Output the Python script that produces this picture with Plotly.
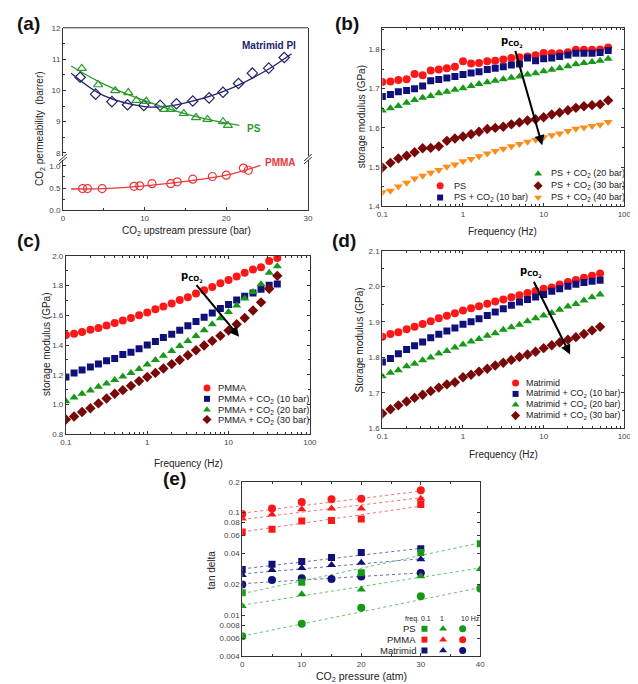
import math
import plotly.graph_objects as go

W, H = 638, 684
def px(x): return x / W
def py(y): return 1 - y / H
def lg(v): return math.log10(v)

# ---------------- data ----------------
# (a) CO2 permeability vs upstream pressure
a_mat_p = [2.1, 4.0, 6.0, 7.9, 9.9, 11.9, 13.9, 15.9, 17.9, 19.6, 21.5, 23.2, 25.2, 27.1]
a_mat_perm = [10.42, 9.88, 9.64, 9.54, 9.52, 9.52, 9.57, 9.66, 9.76, 9.94, 10.22, 10.55, 10.71, 11.05]
a_mat_fit_p = [1, 5, 10, 12, 15, 20, 25, 28]
a_mat_fit = [10.55, 9.83, 9.48, 9.47, 9.60, 10.0, 10.65, 11.17]

a_ps_p = [2.3, 4.3, 6.4, 8.0, 9.0, 10.2, 12.4, 13.2, 14.8, 16.3, 17.7, 19.6, 20.2]
a_ps_perm = [10.70, 10.18, 9.99, 9.93, 9.68, 9.65, 9.39, 9.39, 9.26, 9.13, 9.07, 9.00, 8.88]
a_ps_fit_p = [1, 5, 10, 15, 20, 21.6]
a_ps_fit = [10.78, 10.20, 9.67, 9.25, 8.95, 8.88]

a_pmma_p = [2.4, 3.0, 4.8, 8.7, 9.4, 10.9, 13.2, 14.0, 15.9, 18.3, 20.0, 22.1, 22.7]
a_pmma_perm = [0.49, 0.49, 0.49, 0.54, 0.55, 0.60, 0.60, 0.64, 0.70, 0.76, 0.79, 0.95, 0.90]
a_pmma_fit_p = [1, 5, 10, 15, 20, 24.2]
a_pmma_fit = [0.48, 0.49, 0.55, 0.65, 0.79, 1.01]

# frequency grid (Hz)
freq = [0.1, 0.126, 0.158, 0.2, 0.251, 0.316, 0.398, 0.501, 0.631, 0.794,
        1.0, 1.26, 1.58, 2.0, 2.51, 3.16, 3.98, 5.01, 6.31, 7.94,
        10.0, 12.6, 15.8, 20.0, 25.1, 31.6, 39.8, 50.1, 63.1]

# (b) PS storage modulus (GPa)
b_ps = [1.717, 1.718, 1.722, 1.724, 1.737, 1.734, 1.746, 1.749, 1.752, 1.756,
        1.770, 1.764, 1.765, 1.770, 1.771, 1.774, 1.778, 1.780, 1.782, 1.785,
        1.791, 1.790, 1.790, 1.793, 1.799, 1.799, 1.799, 1.800, 1.805]
b_ps10 = [1.680, 1.685, 1.692, 1.695, 1.700, 1.707, 1.720, 1.723, 1.727, 1.731,
          1.736, 1.740, 1.743, 1.749, 1.752, 1.756, 1.760, 1.763, 1.778, 1.771,
          1.776, 1.778, 1.782, 1.786, 1.790, 1.790, 1.790, 1.792, 1.797]
b_ps20 = [1.644, 1.650, 1.656, 1.664, 1.671, 1.677, 1.681, 1.688, 1.692, 1.697,
          1.701, 1.707, 1.712, 1.716, 1.720, 1.724, 1.728, 1.731, 1.736, 1.739,
          1.744, 1.748, 1.752, 1.757, 1.762, 1.765, 1.768, 1.771, 1.776]
b_ps30 = [1.499, 1.511, 1.522, 1.529, 1.538, 1.548, 1.549, 1.553, 1.567, 1.573,
          1.578, 1.584, 1.590, 1.597, 1.600, 1.603, 1.609, 1.614, 1.619, 1.622,
          1.627, 1.634, 1.639, 1.645, 1.651, 1.655, 1.658, 1.660, 1.670]
b_ps40 = [1.436, 1.440, 1.451, 1.460, 1.471, 1.478, 1.486, 1.493, 1.501, 1.507,
          1.515, 1.521, 1.528, 1.535, 1.541, 1.547, 1.553, 1.559, 1.565, 1.570,
          1.576, 1.581, 1.586, 1.592, 1.598, 1.601, 1.605, 1.608, 1.615]

# (c) PMMA storage modulus (GPa), 27 frequencies
c_pmma = [1.467, 1.476, 1.487, 1.503, 1.514, 1.532, 1.548, 1.565, 1.582, 1.600,
          1.619, 1.641, 1.659, 1.680, 1.703, 1.722, 1.746, 1.768, 1.790, 1.815,
          1.837, 1.860, 1.885, 1.907, 1.923, 1.965, 1.985]
c_pmma10 = [1.185, 1.213, 1.232, 1.252, 1.273, 1.294, 1.310, 1.336, 1.352, 1.376,
            1.400, 1.424, 1.450, 1.473, 1.500, 1.529, 1.558, 1.586, 1.616, 1.645,
            1.673, 1.703, 1.728, 1.750, 1.775, 1.802, 1.810]
c_pmma20 = [1.022, 1.048, 1.073, 1.095, 1.120, 1.142, 1.165, 1.188, 1.212, 1.240,
            1.270, 1.300, 1.328, 1.360, 1.393, 1.427, 1.461, 1.500, 1.540, 1.580,
            1.622, 1.665, 1.712, 1.757, 1.808, 1.885, 1.930]
c_pmma30 = [0.900, 0.920, 0.950, 0.975, 1.008, 1.041, 1.073, 1.097, 1.126, 1.158,
            1.185, 1.213, 1.243, 1.272, 1.300, 1.332, 1.365, 1.397, 1.428, 1.462,
            1.497, 1.540, 1.582, 1.632, 1.687, 1.778, 1.865]

# (d) Matrimid storage modulus (GPa), 28 frequencies
d_mat = [1.858, 1.866, 1.871, 1.879, 1.886, 1.894, 1.902, 1.910, 1.917, 1.924,
         1.932, 1.938, 1.944, 1.951, 1.957, 1.963, 1.969, 1.975, 1.981, 1.987,
         1.993, 1.997, 2.005, 2.012, 2.018, 2.024, 2.030, 2.036]
d_mat10 = [1.787, 1.797, 1.810, 1.822, 1.833, 1.843, 1.855, 1.865, 1.874, 1.883,
           1.893, 1.900, 1.909, 1.918, 1.928, 1.937, 1.947, 1.956, 1.963, 1.970,
           1.977, 1.986, 1.993, 2.000, 2.006, 2.011, 2.014, 2.017]
d_mat20 = [1.747, 1.757, 1.764, 1.775, 1.782, 1.792, 1.800, 1.811, 1.818, 1.828,
           1.836, 1.845, 1.852, 1.861, 1.868, 1.878, 1.885, 1.892, 1.902, 1.910,
           1.918, 1.925, 1.934, 1.943, 1.950, 1.960, 1.969, 1.977]
d_mat30 = [1.642, 1.654, 1.665, 1.676, 1.686, 1.695, 1.705, 1.715, 1.724, 1.730,
           1.744, 1.751, 1.760, 1.768, 1.777, 1.785, 1.793, 1.801, 1.808, 1.816,
           1.826, 1.834, 1.842, 1.850, 1.857, 1.866, 1.876, 1.886]

# (e) tan delta vs CO2 pressure (atm)
e_p_pmma = [0, 5, 10, 15, 20, 30]
e_pmma_01 = [0.065, 0.069, 0.083, 0.084, 0.087, 0.120]
e_pmma_1 = [0.088, 0.096, 0.108, 0.110, 0.110, 0.137]
e_pmma_10 = [0.097, 0.110, 0.127, 0.135, 0.137, 0.165]
e_p_mat = [0, 5, 10, 15, 20, 30]
e_mat_01 = [0.0280, 0.0316, 0.0335, 0.0366, 0.0410, 0.0446]
e_mat_1 = [0.0248, 0.0277, 0.0290, 0.0310, 0.0326, 0.0353]
e_mat_10 = [0.0200, 0.0222, 0.0230, 0.0227, 0.0240, 0.0259]
e_p_ps = [0, 10, 20, 30, 40]
e_ps_01 = [0.0166, 0.0211, 0.0261, 0.0410, 0.0498]
e_ps_1 = [0.0124, 0.0161, 0.0179, 0.0241, 0.0283]
e_ps_10 = [0.0063, 0.0083, 0.0119, 0.0154, 0.0183]
# dotted trend lines: [start, end] pressure and values
e_fit_pmma_p = [0, 31]
e_fit_pmma_01 = [0.065, 0.118]
e_fit_pmma_1 = [0.086, 0.142]
e_fit_pmma_10 = [0.099, 0.165]
e_fit_mat_p = [0, 31]
e_fit_mat_01 = [0.0284, 0.0457]
e_fit_mat_1 = [0.0254, 0.0360]
e_fit_mat_10 = [0.0204, 0.0262]
e_fit_ps_p = [0, 40]
e_fit_ps_01 = [0.0163, 0.0510]
e_fit_ps_1 = [0.0126, 0.0290]
e_fit_ps_10 = [0.0063, 0.0187]

# ---------------- style ----------------
FONT = "Liberation Sans, Arial, sans-serif"
RED = "#ff1616"
NAVY = "#10107a"
GREEN = "#189818"
DRED = "#780808"
ORANGE = "#ff8c1a"
AX = "#333333"

fig = go.Figure()

def sc(x, y, xa, ya, color, symbol, size=8, mode="markers", line=None, shape=None, open_=False):
    kw = dict(x=x, y=y, xaxis=xa, yaxis=ya, mode=mode, showlegend=False, hoverinfo="skip")
    if "markers" in mode:
        if open_:
            kw["marker"] = dict(symbol=symbol, size=size, color=color,
                                line=dict(color=color, width=1.2))
        else:
            kw["marker"] = dict(symbol=symbol, size=size, color=color, line=dict(width=0))
    if line is not None:
        kw["line"] = line
        if shape:
            kw["line"]["shape"] = shape
    fig.add_trace(go.Scatter(**kw))

# (a)
CA_N, CA_G, CA_R = "#23236e", "#2a9a2a", "#e8383a"
sc(a_mat_fit_p, a_mat_fit, "x2", "y2", None, None, mode="lines", line=dict(color=CA_N, width=1.3), shape="spline")
sc(a_ps_fit_p, a_ps_fit, "x2", "y2", None, None, mode="lines", line=dict(color=CA_G, width=1.3), shape="spline")
sc(a_mat_p, a_mat_perm, "x2", "y2", CA_N, "diamond-open", size=8, open_=True)
sc(a_ps_p, a_ps_perm, "x2", "y2", CA_G, "triangle-up-open", size=8, open_=True)
sc(a_pmma_fit_p, a_pmma_fit, "x", "y", None, None, mode="lines", line=dict(color=CA_R, width=1.3), shape="spline")
sc(a_pmma_p, a_pmma_perm, "x", "y", CA_R, "circle-open", size=8, open_=True)

# (b)
b_series = [(b_ps, RED, "circle", 8), (b_ps10, NAVY, "square", 7), (b_ps20, GREEN, "triangle-up", 8),
            (b_ps30, DRED, "diamond", 8), (b_ps40, ORANGE, "triangle-down", 8)]
for ys, col, sym, s in b_series:
    sc(freq[:len(ys)], ys, "x3", "y3", col, sym, size=s)

# (c)
for ys, col, sym, s in [(c_pmma, RED, "circle", 8), (c_pmma10, NAVY, "square", 7),
                        (c_pmma20, GREEN, "triangle-up", 8), (c_pmma30, DRED, "diamond", 8)]:
    sc(freq[:len(ys)], ys, "x4", "y4", col, sym, size=s)

# (d)
for ys, col, sym, s in [(d_mat, RED, "circle", 8), (d_mat10, NAVY, "square", 7),
                        (d_mat20, GREEN, "triangle-up", 8), (d_mat30, DRED, "diamond", 8)]:
    sc(freq[:len(ys)], ys, "x5", "y5", col, sym, size=s)

# (e)
LRED, LNAVY, LGREEN = "#f07070", "#6a6aa8", "#6abf6a"
for fp, fy, col in [(e_fit_pmma_p, e_fit_pmma_01, LRED), (e_fit_pmma_p, e_fit_pmma_1, LRED), (e_fit_pmma_p, e_fit_pmma_10, LRED),
                    (e_fit_mat_p, e_fit_mat_01, LNAVY), (e_fit_mat_p, e_fit_mat_1, LNAVY), (e_fit_mat_p, e_fit_mat_10, LNAVY),
                    (e_fit_ps_p, e_fit_ps_01, LGREEN), (e_fit_ps_p, e_fit_ps_1, LGREEN), (e_fit_ps_p, e_fit_ps_10, LGREEN)]:
    sc(fp, fy, "x6", "y6", None, None, mode="lines", line=dict(color=col, width=1, dash="dot"))
for xp, ys, col, sym in [(e_p_pmma, e_pmma_01, RED, "square"), (e_p_pmma, e_pmma_1, RED, "triangle-up"), (e_p_pmma, e_pmma_10, RED, "circle"),
                         (e_p_mat, e_mat_01, NAVY, "square"), (e_p_mat, e_mat_1, NAVY, "triangle-up"), (e_p_mat, e_mat_10, NAVY, "circle"),
                         (e_p_ps, e_ps_01, GREEN, "square"), (e_p_ps, e_ps_1, GREEN, "triangle-up"), (e_p_ps, e_ps_10, GREEN, "circle")]:
    sc(xp, ys, "x6", "y6", col, sym, size=8 if sym != "square" else 7)

# legend swatches on an overlay pixel axis (x7/y7)
swatches = [
    # (b)
    (435, 176, RED, "circle", 7), (435, 188, NAVY, "square", 6),
    (535, 164, GREEN, "triangle-up", 7), (535, 176, DRED, "diamond", 7), (535, 188, ORANGE, "triangle-down", 7),
    # (c)
    (197, 381, RED, "circle", 7), (197, 392, NAVY, "square", 6), (197, 403, GREEN, "triangle-up", 7), (197, 413, DRED, "diamond", 7),
    # (d)
    (512, 376, RED, "circle", 7), (512, 387, NAVY, "square", 6), (512, 398, GREEN, "triangle-up", 7), (512, 409, DRED, "diamond", 7),
    # (e)
    (419, 625, GREEN, "square", 6), (438, 625, GREEN, "triangle-up", 7), (458, 625, GREEN, "circle", 7),
    (419, 636, RED, "square", 6), (438, 636, RED, "triangle-up", 7), (458, 636, RED, "circle", 7),
    (419, 647, NAVY, "square", 6), (438, 647, NAVY, "triangle-up", 7), (458, 647, NAVY, "circle", 7),
]
for x0, y0, col, sym, s in swatches:
    fig.add_trace(go.Scatter(x=[x0], y=[y0], xaxis="x7", yaxis="y7", mode="markers", showlegend=False,
                             hoverinfo="skip", marker=dict(symbol=sym, size=s, color=col, line=dict(width=0))))

# ---------------- axes ----------------
tf = dict(size=8, color="#444444", family=FONT)
def base(**kw):
    d = dict(showline=True, linecolor=AX, linewidth=1, mirror="allticks", ticks="inside", ticklen=3,
             tickwidth=1, tickcolor=AX, tickfont=tf, showgrid=False, zeroline=False)
    d.update(kw)
    return d

minor_lin = lambda dt: dict(ticks="inside", ticklen=2, tickcolor=AX, dtick=dt, showgrid=False)
minor_log = dict(ticks="inside", ticklen=2, tickcolor=AX, dtick="D1", showgrid=False)

lay = dict(
    width=W, height=H, margin=dict(l=0, r=0, t=0, b=0),
    paper_bgcolor="white", plot_bgcolor="rgba(0,0,0,0)", font=dict(family=FONT, color="#222"),
    # (a) bottom
    xaxis=base(domain=[px(50), px(300)], range=[0, 30], tickvals=[0, 10, 20, 30], mirror=False,
               minor=minor_lin(5), anchor="y"),
    yaxis=base(domain=[py(201), py(150)], range=[0, 1.13], tickvals=[0, 0.5, 1.0],
               ticktext=["0.0", "0.5", "1.0"], minor=minor_lin(0.25), anchor="x", mirror=True),
    # (a) top
    xaxis2=dict(domain=[px(50), px(300)], range=[0, 30], visible=False, anchor="y2"),
    yaxis2=base(domain=[py(146), py(16)], range=[7.9, 12], tickvals=[8, 9, 10, 11, 12],
                minor=minor_lin(0.5), anchor="x2", mirror=True),
    # (b)
    xaxis3=base(domain=[px(376), px(623)], type="log", range=[-1, 2], tickvals=[0.1, 1, 10, 100],
                ticktext=["0.1", "1", "10", "100"], minor=minor_log, anchor="y3"),
    yaxis3=base(domain=[py(197), py(16)], range=[1.4, 1.855], tickvals=[1.4, 1.5, 1.6, 1.7, 1.8],
                minor=minor_lin(0.05), anchor="x3"),
    # (c)
    xaxis4=base(domain=[px(53), px(302)], type="log", range=[-1, 2], tickvals=[0.1, 1, 10, 100],
                ticktext=["0.1", "1", "10", "100"], minor=minor_log, anchor="y4"),
    yaxis4=base(domain=[py(428), py(247)], range=[0.8, 2.0], tickvals=[0.8, 1.0, 1.2, 1.4, 1.6, 1.8, 2.0],
                ticktext=["0.8", "1.0", "1.2", "1.4", "1.6", "1.8", "2.0"], minor=minor_lin(0.1), anchor="x4"),
    # (d)
    xaxis5=base(domain=[px(376), px(623)], type="log", range=[-1, 2], tickvals=[0.1, 1, 10, 100],
                ticktext=["0.1", "1", "10", "100"], minor=minor_log, anchor="y5"),
    yaxis5=base(domain=[py(422), py(242)], range=[1.6, 2.1], tickvals=[1.6, 1.7, 1.8, 1.9, 2.0, 2.1],
                ticktext=["1.6", "1.7", "1.8", "1.9", "2.0", "2.1"], minor=minor_lin(0.05), anchor="x5"),
    # (e)
    xaxis6=base(domain=[px(233), px(476)], range=[0, 40], tickvals=[0, 10, 20, 30, 40],
                minor=minor_lin(5), anchor="y6"),
    yaxis6=base(domain=[py(653), py(476)], type="log", range=[lg(0.004), lg(0.2)],
                tickvals=[0.004, 0.006, 0.008, 0.01, 0.02, 0.04, 0.06, 0.08, 0.1, 0.2],
                ticktext=["0.004", "0.006", "0.008", "0.01", "0.02", "0.04", "0.06", "0.08", "0.1", "0.2"],
                anchor="x6"),
    # overlay pixel axis
    xaxis7=dict(domain=[0, 1], range=[0, W], visible=False, anchor="y7"),
    yaxis7=dict(domain=[0, 1], range=[H, 0], visible=False, anchor="x7"),
)
fig.update_layout(**lay)

# ---------------- shapes ----------------
shapes = [
    dict(type="line", xref="paper", yref="paper", x0=px(50), x1=px(300), y0=py(16), y1=py(16),
         line=dict(color=AX, width=1)),
]
for xb in (50, 300):
    for dy in (0, 3):
        shapes.append(dict(type="line", xref="paper", yref="paper", x0=px(xb - 4), x1=px(xb + 4),
                           y0=py(151 + dy), y1=py(144 + dy), line=dict(color=AX, width=1)))
fig.update_layout(shapes=shapes)

# ---------------- annotations ----------------
ann = []
def T(x, y, text, size=10, color="#222", xanchor="center", yanchor="middle", angle=0, bold=False, family=FONT):
    if bold:
        text = "<b>" + text + "</b>"
    ann.append(dict(x=px(x), y=py(y), xref="paper", yref="paper", text=text, showarrow=False,
                    font=dict(size=size, color=color, family=family), xanchor=xanchor, yanchor=yanchor,
                    textangle=angle))

# panel labels
for lab, x, y in [("(a)", 1, 12), ("(b)", 326, 12), ("(c)", 1, 232), ("(d)", 323, 232), ("(e)", 150, 473)]:
    T(x, y, lab, size=19, color="#111", xanchor="left", bold=True)

# axis titles
T(176, 222, "CO<sub>2</sub> upstream pressure (bar)", size=10)
T(27, 118, "CO<sub>2</sub> permeability  (barrer)", size=10, angle=-90)
T(499, 222, "Frequency (Hz)", size=10)
T(355, 106, "storage modulus (GPa)", size=10, angle=-90)
T(178, 458, "Frequency (Hz)", size=10)
T(33, 337, "storage modulus (GPa)", size=10, angle=-90)
T(500, 448, "Frequency (Hz)", size=10)
T(353, 332, "Storage modulus (GPa)", size=10, angle=-90)
T(355, 674, "CO<sub>2</sub> pressure (atm)", size=10.5)
T(202, 565, "tan delta", size=10, angle=-90)

# (a) series labels
T(290, 34, "Matrimid PI", size=10, color=CA_N, xanchor="right", bold=True)
T(236, 118, "PS", size=10, color=CA_G, xanchor="left", bold=True)
T(254, 152, "PMMA", size=10, color=CA_R, xanchor="left", bold=True)

# legends text
LFB, LFC, LFD = 9.1, 9.4, 8.9
T(447, 176, "PS", size=LFB, xanchor="left")
T(447, 188, "PS + CO<sub>2</sub> (10 bar)", size=LFB, xanchor="left")
T(546, 164, "PS + CO<sub>2</sub> (20 bar)", size=LFB, xanchor="left")
T(546, 176, "PS + CO<sub>2</sub> (30 bar)", size=LFB, xanchor="left")
T(546, 188, "PS + CO<sub>2</sub> (40 bar)", size=LFB, xanchor="left")
T(206, 381, "PMMA", size=LFC, xanchor="left")
T(206, 392, "PMMA + CO<sub>2</sub> (10 bar)", size=LFC, xanchor="left")
T(206, 403, "PMMA + CO<sub>2</sub> (20 bar)", size=LFC, xanchor="left")
T(206, 413, "PMMA + CO<sub>2</sub> (30 bar)", size=LFC, xanchor="left")
T(521, 376, "Matrimid", size=LFD, xanchor="left")
T(521, 387, "Matrimid + CO<sub>2</sub> (10 bar)", size=LFD, xanchor="left")
T(521, 398, "Matrimid + CO<sub>2</sub> (20 bar)", size=LFD, xanchor="left")
T(521, 409, "Matrimid + CO<sub>2</sub> (30 bar)", size=LFD, xanchor="left")
# (e) legend
T(397, 615, "freq. 0.1", size=7, xanchor="left")
T(437, 615, "1", size=7)
T(466, 615, "10 Hz", size=7)
T(412, 625, "PS", size=9.5, xanchor="right")
T(412, 636, "PMMA", size=9.5, xanchor="right")
T(412, 647, "Matrimid", size=9.5, xanchor="right")

# arrows with p_CO2 labels
def arrow(xa, ya, tail, head, label_pos):
    ann.append(dict(x=lg(head[0]), y=head[1], ax=lg(tail[0]), ay=tail[1], xref=xa, yref=ya,
                    axref=xa, ayref=ya, text="", showarrow=True, arrowhead=2, arrowsize=1,
                    arrowwidth=2, arrowcolor="#000"))
    ann.append(dict(x=lg(label_pos[0]), y=label_pos[1], xref=xa, yref=ya,
                    text="<b>p<sub>CO<sub>2</sub></sub></b>",
                    showarrow=False, font=dict(size=10, color="#000", family="DejaVu Sans, sans-serif")))

arrow("x3", "y3", (4.4, 1.800), (9.6, 1.556), (4.0, 1.818))
arrow("x4", "y4", (3.9, 1.813), (13.5, 1.456), (3.6, 1.86))
arrow("x5", "y5", (7.4, 2.017), (21.3, 1.808), (7.0, 2.040))

fig.update_layout(annotations=ann)
fig.write_html("out.html")
